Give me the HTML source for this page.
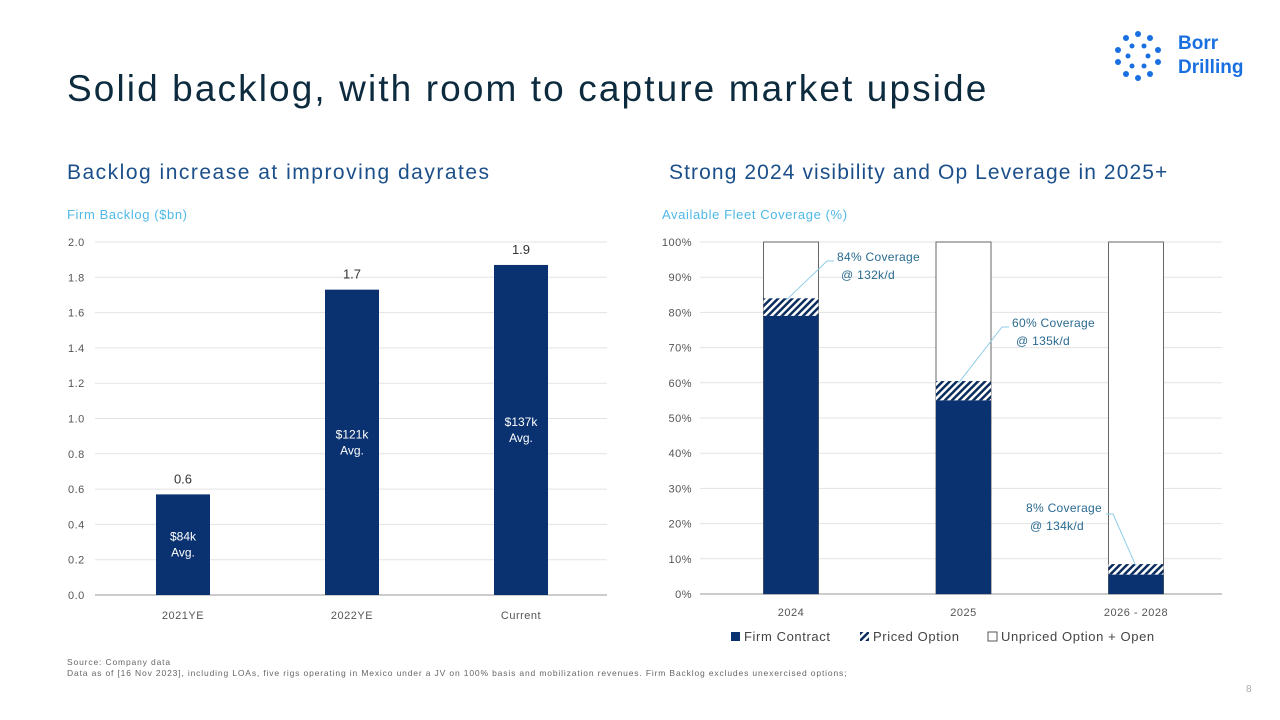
<!DOCTYPE html>
<html><head><meta charset="utf-8">
<style>
body{margin:0;width:1280px;height:720px;background:#fff;font-family:"Liberation Sans",sans-serif;overflow:hidden;position:relative}
.t{position:absolute;white-space:nowrap}
</style></head>
<body>
<div class="t" style="left:67px;top:68px;font-size:37px;letter-spacing:2.1px;color:#0d2b3e">Solid backlog, with room to capture market upside</div>
<div class="t" style="left:1178px;top:32px;font-size:19px;font-weight:bold;color:#1a6fe0;line-height:24px">Borr<br>Drilling</div>
<svg style="position:absolute;left:1110px;top:28px" width="56" height="56">
<g fill="#1a6fe0">
<circle cx="28" cy="6" r="3"/><circle cx="40" cy="10" r="3"/><circle cx="16" cy="10" r="3"/><circle cx="8" cy="22" r="3"/><circle cx="48" cy="22" r="3"/><circle cx="8" cy="34" r="3"/><circle cx="48" cy="34" r="3"/><circle cx="16" cy="46" r="3"/><circle cx="40" cy="46" r="3"/><circle cx="28" cy="50" r="3"/><circle cx="22" cy="18" r="2.5"/><circle cx="34" cy="18" r="2.5"/><circle cx="18" cy="28" r="2.5"/><circle cx="38" cy="28" r="2.5"/><circle cx="22" cy="38" r="2.5"/><circle cx="34" cy="38" r="2.5"/>
</g></svg>
<div class="t" style="left:67px;top:161px;font-size:21px;letter-spacing:1.5px;color:#1b4f8a">Backlog increase at improving dayrates</div>
<div class="t" style="left:669px;top:161px;font-size:21px;letter-spacing:1.1px;color:#1b4f8a">Strong 2024 visibility and Op Leverage in 2025+</div>
<div class="t" style="left:67px;top:207px;font-size:13px;letter-spacing:0.6px;color:#4fb8e6">Firm Backlog ($bn)</div>
<div class="t" style="left:662px;top:207px;font-size:13px;letter-spacing:0.6px;color:#4fb8e6">Available Fleet Coverage (%)</div>
<svg id="c" width="1280" height="720" style="position:absolute;left:0;top:0">
<defs><pattern id="hatch" width="5" height="5" patternUnits="userSpaceOnUse" patternTransform="rotate(45)"><rect width="5" height="5" fill="#fff"/><rect width="2.5" height="5" fill="#0b2d5e"/></pattern></defs>
</svg>
<div class="t" style="left:67px;top:657px;font-size:8.5px;letter-spacing:0.85px;color:#666;line-height:11px">Source: Company data<br>Data as of [16 Nov 2023], including LOAs, five rigs operating in Mexico under a JV on 100% basis and mobilization revenues. Firm Backlog excludes unexercised options;</div>
<div class="t" style="left:1246px;top:684px;font-size:10px;color:#aaa">8</div>
<script>
const leftCats=["2021YE","2022YE","Current"];
const leftVals=[0.57,1.73,1.87];
const leftLabels=["0.6","1.7","1.9"];
const leftInner=["$84k","$121k","$137k"];
const leftTicks=[0,0.2,0.4,0.6,0.8,1.0,1.2,1.4,1.6,1.8,2.0];
const rightCats=["2024","2025","2026 - 2028"];
const firm=[79,55,5.5];
const priced=[5,5.5,3];
const rightTicks=[0,10,20,30,40,50,60,70,80,90,100];
const coverLabels=["84% Coverage","60% Coverage","8% Coverage"];
const coverRates=["@ 132k/d","@ 135k/d","@ 134k/d"];
const svg=document.getElementById('c');const NS="http://www.w3.org/2000/svg";
function el(t,a,txt){const e=document.createElementNS(NS,t);for(const k in a)e.setAttribute(k,a[k]);if(txt!==undefined)e.textContent=txt;svg.appendChild(e);return e;}
// left
const ly=v=>595-v/2*353, lx=i=>183+i*169;
leftTicks.forEach(t=>{const g=el('line',{x1:95,x2:607,y1:ly(t),y2:ly(t),stroke:t===0?'#999':'#e3e3e3'});
const l=el('text',{x:68,y:ly(t)+4,'font-size':11,'letter-spacing':0.5,fill:'#555'},t.toFixed(1));});
leftCats.forEach((c,i)=>{const b=el('rect',{x:lx(i)-27,y:ly(leftVals[i]),width:54,height:595-ly(leftVals[i]),fill:'#0b3270'});
const v=el('text',{x:lx(i),y:ly(leftVals[i])-11,'font-size':13,fill:'#333','text-anchor':'middle'},leftLabels[i]);
const mid=(ly(leftVals[i])+595)/2;
const a=el('text',{x:lx(i),y:mid-4,'font-size':12,fill:'#fff','text-anchor':'middle'},leftInner[i]);
const b2=el('text',{x:lx(i),y:mid+12,'font-size':12,fill:'#fff','text-anchor':'middle'},"Avg.");
const x=el('text',{x:lx(i),y:619,'font-size':11,'letter-spacing':0.5,fill:'#555','text-anchor':'middle'},c);});
// right
const ry=v=>594-v/100*352, rx=i=>791+i*172.5;
rightTicks.forEach(t=>{const g=el('line',{x1:700,x2:1222,y1:ry(t),y2:ry(t),stroke:t===0?'#999':'#e3e3e3'});
const l=el('text',{x:692,y:ry(t)+4,'font-size':11,'letter-spacing':0.5,fill:'#555','text-anchor':'end'},t+'%');});
const lblPos=[[837,257],[1012,323],[1026,508]];
rightCats.forEach((c,i)=>{const x0=rx(i)-27.5;
const o=el('rect',{x:x0,y:ry(100),width:55,height:ry(0)-ry(100),fill:'#fff',stroke:'#666'});
const p=el('rect',{x:x0,y:ry(firm[i]+priced[i]),width:55,height:ry(firm[i])-ry(firm[i]+priced[i]),fill:'url(#hatch)'});
const f=el('rect',{x:x0,y:ry(firm[i]),width:55,height:ry(0)-ry(firm[i]),fill:'#0b3270'});
const [lx2,ly2]=lblPos[i];const tip=ry(firm[i]+priced[i])+2;
const pts=i===2?`${rx(i)},${tip} ${lx2+87},${ly2+6} ${lx2+80},${ly2+6}`:`${rx(i)-5},${tip} ${lx2-10},${ly2+4} ${lx2-3},${ly2+4}`;
const ln=el('polyline',{points:pts,fill:'none',stroke:'#8fcde8'});
const t1=el('text',{x:lx2,y:ly2+4,'font-size':12,'letter-spacing':0.3,fill:'#2a6a90'},coverLabels[i]);
const t2=el('text',{x:lx2+4,y:ly2+22,'font-size':12,'letter-spacing':0.3,fill:'#2a6a90'},coverRates[i]);
const xl=el('text',{x:rx(i),y:616,'font-size':11,'letter-spacing':0.5,fill:'#555','text-anchor':'middle'},c);});
// legend
const leg=[["Firm Contract",'#0b3270',731],["Priced Option",'url(#hatch)',860],["Unpriced Option + Open",'#fff',988]];
leg.forEach(([n,f,x])=>{const r=el('rect',{x:x,y:632,width:9,height:9,fill:f,stroke:f==='#fff'?'#555':'none'});
const t=el('text',{x:x+13,y:641,'font-size':13,'letter-spacing':0.6,fill:'#444'},n);});
</script>
</body></html>
